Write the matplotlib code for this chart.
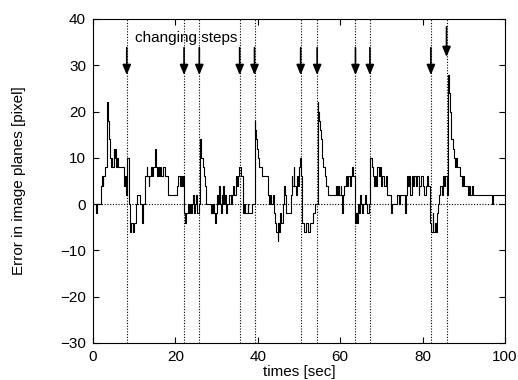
#!/usr/bin/env python3
"""Tracking error in image planes vs time, with the moments the target steps changed."""
import matplotlib
matplotlib.use("Agg")
import matplotlib.pyplot as plt

plt.rcParams["font.family"] = ["Liberation Sans", "DejaVu Sans"]

# error signal (step-wise samples: time [sec], error [pixel])
times = [0, 0.7, 0.9, 2.0, 2.2, 2.4, 2.5, 2.8, 3.1, 3.5, 3.7, 3.9, 4.1, 4.3, 4.5, 4.7, 5.0, 5.2,
         5.4, 5.6, 5.8, 6.1, 7.6, 7.8, 8.0, 8.2, 8.6, 8.8, 9.0, 9.3, 9.6, 10.0, 10.4, 10.6, 11.3,
         11.9, 12.1, 12.7, 13.0, 13.2, 13.5, 13.7, 14.0, 14.3, 14.6, 15.0, 15.3, 15.5, 15.7, 16.0,
         16.3, 16.6, 17.0, 17.4, 18.2, 20.4, 20.6, 21.0, 21.3, 21.7, 21.9, 22.2, 22.4, 22.6, 23.0,
         23.2, 23.5, 23.8, 24.1, 24.3, 24.5, 24.8, 25.0, 25.3, 25.7, 25.9, 26.1, 26.3, 26.6, 26.9,
         27.1, 27.4, 28.6, 28.8, 29.0, 29.2, 29.4, 29.6, 29.8, 30.0, 30.2, 30.4, 30.6, 30.8, 31.0,
         31.2, 31.4, 31.6, 31.8, 32.0, 32.3, 32.6, 33.0, 33.4, 33.7, 34.0, 34.3, 34.6, 34.9, 35.2,
         35.5, 35.8, 36.3, 36.6, 36.9, 37.5, 37.7, 38.5, 39.2, 39.4, 39.6, 39.8, 40.0, 40.3, 41.1,
         42.5, 42.8, 43.0, 43.3, 43.6, 43.9, 44.2, 44.5, 44.8, 45.0, 45.2, 45.5, 45.7, 46.0, 46.3,
         46.6, 46.9, 48.0, 48.2, 48.4, 48.7, 48.9, 49.2, 49.5, 49.7, 50.0, 50.3, 50.6, 50.8, 51.1,
         51.6, 52.2, 52.6, 53.3, 53.8, 54.5, 54.7, 54.9, 55.1, 55.3, 55.6, 55.8, 56.2, 56.6, 57.0,
         59.0, 59.2, 59.5, 59.8, 60.1, 60.3, 60.5, 60.7, 61.0, 61.3, 61.6, 61.9, 62.3, 62.6, 62.9,
         63.2, 63.7, 63.9, 64.1, 64.3, 64.6, 64.8, 65.0, 65.3, 65.6, 66.0, 66.3, 66.6, 67.0, 67.3,
         67.6, 67.9, 68.2, 68.5, 68.8, 69.0, 69.3, 69.6, 69.9, 70.2, 70.6, 71.0, 71.4, 72.4, 72.6,
         73.8, 74.2, 74.4, 75.6, 75.9, 76.1, 76.4, 76.7, 77.0, 77.3, 77.6, 77.9, 78.3, 78.6, 79.0,
         79.2, 79.6, 80.0, 80.4, 80.7, 81.0, 81.4, 81.9, 82.1, 82.4, 82.6, 83.0, 83.3, 83.6, 83.8,
         84.0, 84.3, 84.6, 84.9, 85.2, 85.5, 85.8, 86.1, 86.3, 86.45, 86.6, 86.75, 86.9, 87.0, 87.3,
         87.6, 87.9, 88.2, 88.4, 89.0, 89.5, 89.8, 90.1, 91.0, 91.3, 91.5, 92.0, 92.3, 96.8, 97.1,
         99.8]
errors = [0, -2, 0, 4, 6, 4, 6, 8, 8, 22, 18, 14, 10, 8, 10, 8, 12, 10,
          12, 8, 10, 8, 4, 6, 2, 10, 10, 0, -6, -4, -6, -4, 0, 2, 0,
          -4, 0, 6, 8, 6, 4, 6, 8, 6, 8, 12, 8, 6, 8, 6,
          8, 6, 8, 6, 2, 4, 6, 4, 6, 4, 6, -2, -4, -2, 0,
          -2, 0, -2, 0, 2, -2, 0, 2, -2, 0, 14, 12, 10, 8, 6,
          4, 0, -2, 0, -2, 0, -2, -4, -2, 0, 2, 0, 4, 0, -2,
          2, 0, 4, 0, 2, -2, 0, 2, 0, 2, 4, 2, 6, 4, 6,
          8, 6, -2, 0, -2, 0, -2, 0, 18, 16, 14, 12, 10, 8, 6,
          2, 0, 2, 0, 2, -2, -4, -6, -8, -4, -6, -2, -4, 0, 4,
          2, -2, 2, 6, 4, 8, 4, 2, 6, 4, 8, 10, 6, -4, -6,
          -4, -6, -4, -2, 0, 22, 20, 18, 16, 14, 10, 8, 6, 4, 2,
          4, 2, 4, 2, 4, 2, -2, 2, 4, 6, 4, 6, 4, 6, 8,
          6, -4, -2, -4, 0, -2, 2, 0, -2, 0, 2, 0, -2, 0, 10,
          8, 6, 4, 6, 4, 8, 6, 8, 4, 6, 4, 6, 2, -2, 0,
          2, 0, 2, -2, 2, 6, 4, 6, 2, 6, 4, 6, 4, 6, 2,
          4, 6, 4, 2, 4, 6, 4, -4, -6, -2, -6, -4, -6, -2, 0,
          2, 4, 2, 6, 4, 6, 2, 28, 26, 24, 22, 20, 18, 14, 12,
          10, 8, 10, 8, 6, 4, 6, 4, 2, 4, 2, 4, 2, 0, 2,
          2]

# moments where the steps changed (dotted verticals + arrows)
change_times = [8.2, 22.1, 25.8, 35.6, 39.2, 50.4, 54.4, 63.7, 67.2, 82.0, 85.8]
arrow_times = [8.2, 22.1, 25.8, 35.6, 39.2, 50.4, 54.4, 63.7, 67.2, 82.0]
last_arrow_time = 85.8


def main():
    fig = plt.figure(figsize=(5.18, 3.8), dpi=100)
    ax = fig.add_axes([0.1795, 0.0974, 0.7955, 0.8526])

    ax.axhline(0, color="black", lw=0.8, ls=(0, (1, 1.5)))
    for t in change_times:
        ax.axvline(t, color="black", lw=0.8, ls=(0, (1, 1.5)))

    ax.step(times, errors, where="post", color="black", lw=0.8)

    arrow_kw = dict(arrowstyle="-|>,head_length=0.6,head_width=0.25", color="black", lw=1.2,
                    shrinkA=0, shrinkB=0)
    for t in arrow_times:
        ax.annotate("", xy=(t, 27.9), xytext=(t, 33.8), arrowprops=arrow_kw)
    ax.annotate("", xy=(last_arrow_time, 31.8), xytext=(last_arrow_time, 38.3), arrowprops=arrow_kw)
    ax.text(10.2, 35.9, "changing steps", fontsize=11, va="center", ha="left")

    ax.set_xlim(0, 100)
    ax.set_ylim(-30, 40)
    ax.set_xticks(range(0, 101, 20))
    ax.set_yticks(range(-30, 41, 10))
    ax.tick_params(direction="in", length=4, top=True, right=True, labelsize=11, pad=5)
    ax.set_xlabel("times [sec]", fontsize=11, labelpad=1)
    ax.set_ylabel("Error in image planes [pixel]", fontsize=11)
    ax.yaxis.set_label_coords(-0.163, 0.5)

    fig.savefig("out.png", dpi=100)


if __name__ == "__main__":
    main()
